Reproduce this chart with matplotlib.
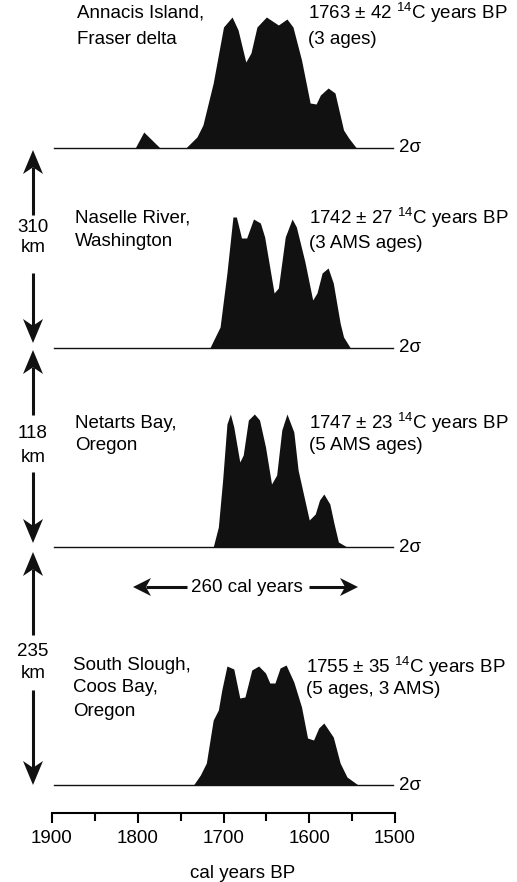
import matplotlib
matplotlib.use('Agg')
import matplotlib.pyplot as plt
from matplotlib.patches import Polygon
import numpy as np

plt.rcParams['font.family'] = ['Liberation Sans', 'DejaVu Sans']
plt.rcParams['mathtext.fontset'] = 'custom'
plt.rcParams['mathtext.rm'] = 'Liberation Sans'
plt.rcParams['mathtext.it'] = 'Liberation Sans:italic'
plt.rcParams['mathtext.bf'] = 'Liberation Sans:bold'

# ---------------- data ----------------
annacis_years = [1898, 1803, 1793, 1774, 1744, 1731, 1724, 1712, 1700, 1690, 1683, 1674, 1668,
                 1661, 1650, 1636, 1626, 1619, 1609, 1599, 1592, 1587, 1578, 1570, 1560, 1554,
                 1545, 1502]
annacis_prob = [0, 0, 16, 0, 0, 11, 23, 65, 121, 131, 118, 86, 95,
                121, 131, 123, 129, 121, 88, 45, 44, 53, 60, 55, 18, 10,
                0, 0]

naselle_years = [1898, 1716, 1704, 1696, 1689, 1685, 1679, 1673, 1665, 1657, 1652, 1641, 1636,
                 1628, 1620, 1615, 1605, 1596, 1591, 1585, 1578, 1572, 1564, 1560, 1552, 1502]
naselle_prob = [0, 0, 21, 75, 131, 131, 110, 110, 129, 125, 111, 55, 60,
                111, 129, 121, 86, 48, 55, 75, 80, 65, 25, 11, 0, 0]

netarts_years = [1898, 1712, 1706, 1701, 1696, 1692, 1688, 1681, 1677, 1671, 1664, 1658, 1651,
                 1644, 1638, 1632, 1626, 1618, 1613, 1606, 1600, 1593, 1588, 1583, 1576, 1571,
                 1566, 1556, 1502]
netarts_prob = [0, 0, 20, 67, 123, 133, 120, 85, 92, 127, 133, 127, 100,
                63, 72, 117, 133, 115, 77, 50, 27, 33, 47, 53, 43, 23,
                5, 0, 0]

slough_years = [1898, 1735, 1727, 1720, 1712, 1706, 1702, 1696, 1688, 1681, 1675, 1667, 1659,
                1651, 1646, 1640, 1634, 1627, 1618, 1609, 1602, 1595, 1589, 1583, 1572, 1564,
                1556, 1543, 1502]
slough_prob = [0, 0, 10, 22, 65, 75, 95, 119, 116, 87, 88, 115, 119,
               112, 102, 102, 117, 120, 103, 78, 47, 45, 57, 62, 48, 22,
               8, 0, 0]

site_labels = [["Annacis Island,", "Fraser delta"],
               ["Naselle River,", "Washington"],
               ["Netarts Bay,", "Oregon"],
               ["South Slough,", "Coos Bay,", "Oregon"]]
age_labels = [["1763 \u00b1 42 $^{14}$C years BP", "(3 ages)"],
              ["1742 \u00b1 27 $^{14}$C years BP", "(3 AMS ages)"],
              ["1747 \u00b1 23 $^{14}$C years BP", "(5 AMS ages)"],
              ["1755 \u00b1 35 $^{14}$C years BP", "(5 ages, 3 AMS)"]]
distance_labels = ["310", "118", "235"]
major_ticks = [1900, 1800, 1700, 1600, 1500]
minor_ticks = [1850, 1750, 1650, 1550]

# ---------------- layout ----------------
W, H = 517, 882
fig = plt.figure(figsize=(W / 100, H / 100), dpi=100)
X0, X1 = 52, 395
baselines = [148, 348, 547, 785]
FS = 13.5

series = [(annacis_years, annacis_prob), (naselle_years, naselle_prob),
          (netarts_years, netarts_prob), (slough_years, slough_prob)]

for (yrs, prob), base in zip(series, baselines):
    ax = fig.add_axes([X0 / W, (H - base) / H, (X1 - X0) / W, 140 / H])
    ax.set_xlim(1900, 1500)
    ax.set_ylim(0, 140)
    ax.axis('off')
    ax.fill_between(yrs, prob, 0, color='#111111', lw=0, clip_on=False)
    ax.plot([yrs[0], yrs[-1]], [0, 0], color='#111111', lw=1.0, clip_on=False)

# bottom axis
axb = fig.add_axes([X0 / W, (H - 813) / H, (X1 - X0) / W, 0.001])
axb.set_xlim(1900, 1500)
axb.patch.set_visible(False)
for s in ['top', 'left', 'right']:
    axb.spines[s].set_visible(False)
axb.spines['bottom'].set_linewidth(1.5)
axb.set_yticks([])
axb.set_xticks(major_ticks)
axb.set_xticklabels([str(t) for t in major_ticks])
axb.set_xticks(minor_ticks, minor=True)
axb.tick_params(which='major', direction='out', length=7, width=1.5, labelsize=FS, pad=5)
axb.tick_params(which='minor', direction='out', length=6, width=1.5)

# overlay for annotations (pixel coordinates)
ov = fig.add_axes([0, 0, 1, 1])
ov.set_xlim(0, W)
ov.set_ylim(H, 0)
ov.axis('off')
ov.patch.set_visible(False)

site_pos = [(77, [13, 40]), (75, [218, 242]), (75, [423, 446]), (73, [665, 688, 712])]
age_pos = [(308, [13, 40]), (309, [218, 243]), (309, [423, 446]), (306, [667, 690])]

for lines, (x, ys) in zip(site_labels, site_pos):
    for t, y in zip(lines, ys):
        ov.text(x, y, t, fontsize=FS, ha='left', va='center')
for lines, (x, ys) in zip(age_labels, age_pos):
    for t, y in zip(lines, ys):
        ov.text(x, y, t, fontsize=FS, ha='left', va='center')
for base in baselines:
    ov.text(399, base, "2\u03c3", fontsize=FS, ha='left', va='center')


def head(tip, d, L=24, hw=10):
    d = np.array(d, float)
    d /= np.linalg.norm(d)
    p = np.array([-d[1], d[0]])
    tip = np.array(tip, float)
    back = tip - d * L
    notch = tip - d * L * 0.72
    pts = [tip, back + p * hw, notch, back - p * hw]
    ov.add_patch(Polygon(pts, closed=True, color='#111111', lw=0))
    return notch


def arrow(tip, tail, L=24, hw=10):
    tip = np.array(tip, float)
    tail = np.array(tail, float)
    notch = head(tip, tip - tail, L, hw)
    ov.plot([notch[0], tail[0]], [notch[1], tail[1]], color='#111111', lw=2.2,
            solid_capstyle='butt')


AX = 33
vert = [((150, 215), (273, 343), (227, 248)),
        ((350, 415), (472, 543), (433, 457)),
        ((552, 635), (690, 785), (652, 673))]
for lab, ((t1, s1), (s2, t2), (ly1, ly2)) in zip(distance_labels, vert):
    arrow((AX, t1), (AX, s1))
    arrow((AX, t2), (AX, s2))
    ov.text(AX, ly1, lab, fontsize=FS, ha='center', va='center')
    ov.text(AX, ly2, "km", fontsize=FS, ha='center', va='center')

arrow((133, 587), (187, 587), L=18, hw=9)
arrow((358, 587), (309, 587), L=18, hw=9)
ov.text(247, 587, "260 cal years", fontsize=FS, ha='center', va='center')

ov.text(243, 873, "cal years BP", fontsize=FS, ha='center', va='center')

fig.savefig('out.png', dpi=100)
